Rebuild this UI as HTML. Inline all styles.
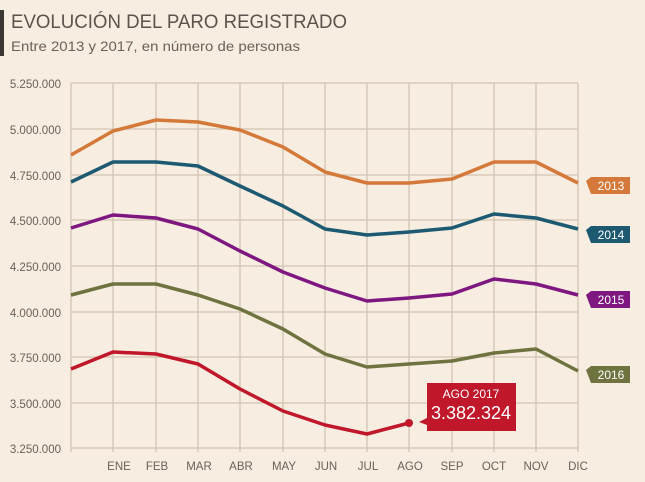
<!DOCTYPE html>
<html><head><meta charset="utf-8"><style>
body{margin:0;background:#f7ede1;}
svg{display:block;font-family:"Liberation Sans",sans-serif;}
</style></head><body>
<svg width="645" height="482" viewBox="0 0 645 482">
<rect width="645" height="482" fill="#f7ede1"/>
<rect x="0" y="10" width="4" height="46" fill="#3a3632"/>
<text x="11" y="28" font-size="19" fill="#5a544c" textLength="336" lengthAdjust="spacingAndGlyphs">EVOLUCIÓN DEL PARO REGISTRADO</text>
<text x="11" y="51" font-size="14" fill="#6a6258" textLength="289" lengthAdjust="spacingAndGlyphs">Entre 2013 y 2017, en número de personas</text>
<g stroke="#d2c4b3" stroke-width="1.3">
<line x1="71" y1="83" x2="578" y2="83"/><line x1="71" y1="129" x2="578" y2="129"/><line x1="71" y1="175" x2="578" y2="175"/><line x1="71" y1="220" x2="578" y2="220"/><line x1="71" y1="266" x2="578" y2="266"/><line x1="71" y1="312" x2="578" y2="312"/><line x1="71" y1="357" x2="578" y2="357"/><line x1="71" y1="403" x2="578" y2="403"/><line x1="71" y1="448" x2="578" y2="448"/>
<line x1="71" y1="83" x2="71" y2="452"/><line x1="113" y1="83" x2="113" y2="452"/><line x1="156" y1="83" x2="156" y2="452"/><line x1="198" y1="83" x2="198" y2="452"/><line x1="240" y1="83" x2="240" y2="452"/><line x1="283" y1="83" x2="283" y2="452"/><line x1="325" y1="83" x2="325" y2="452"/><line x1="367" y1="83" x2="367" y2="452"/><line x1="409" y1="83" x2="409" y2="452"/><line x1="452" y1="83" x2="452" y2="452"/><line x1="494" y1="83" x2="494" y2="452"/><line x1="536" y1="83" x2="536" y2="452"/><line x1="578" y1="83" x2="578" y2="452"/>
</g>
<g font-size="11.5" fill="#6a6258" text-anchor="end">
<text x="61" y="88">5.250.000</text><text x="61" y="134">5.000.000</text><text x="61" y="180">4.750.000</text><text x="61" y="225">4.500.000</text><text x="61" y="271">4.250.000</text><text x="61" y="317">4.000.000</text><text x="61" y="362">3.750.000</text><text x="61" y="408">3.500.000</text><text x="61" y="453">3.250.000</text>
</g>
<g font-size="11.5" fill="#6a6258" text-anchor="middle">
<text x="119" y="470">ENE</text><text x="157" y="470">FEB</text><text x="199" y="470">MAR</text><text x="241" y="470">ABR</text><text x="284" y="470">MAY</text><text x="326" y="470">JUN</text><text x="368" y="470">JUL</text><text x="410" y="470">AGO</text><text x="452" y="470">SEP</text><text x="494" y="470">OCT</text><text x="536" y="470">NOV</text><text x="578" y="470">DIC</text>
</g>
<g fill="none" stroke-width="3.5" stroke-linejoin="round">
<polyline stroke="#d5793a" points="71,155 113,131 156,120 198,122 240,130 283,147 325,172 367,183 409,183 452,179 494,162 536,162 578,183"/>
<polyline stroke="#1d5a72" points="71,182 113,162 156,162 198,166 240,186 283,206 325,229 367,235 409,232 452,228 494,214 536,218 578,229"/>
<polyline stroke="#7f1780" points="71,228 113,215 156,218 198,229 240,251 283,272 325,288 367,301 409,298 452,294 494,279 536,284 578,295"/>
<polyline stroke="#6f7340" points="71,295 113,284 156,284 198,295 240,309 283,329 325,354 367,367 409,364 452,361 494,353 536,349 578,371"/>
<polyline stroke="#c0172a" points="71,369 113,352 156,354 198,364 240,389 283,411 325,425 367,434 409,423"/>
</g>
<circle cx="409" cy="423" r="4" fill="#c0172a"/>
<g font-size="12" fill="#fff" text-anchor="middle">
<path d="M586,181 l5,-4 h39 v17 h-39 z" fill="#d5793a"/><text x="611" y="190">2013</text>
<path d="M586,230 l5,-4 h39 v17 h-39 z" fill="#1d5a72"/><text x="611" y="239">2014</text>
<path d="M586,295 l5,-4 h39 v17 h-39 z" fill="#7f1780"/><text x="611" y="304">2015</text>
<path d="M586,370 l5,-4 h39 v17 h-39 z" fill="#6f7340"/><text x="611" y="379">2016</text>
<path d="M419,422 l8,-4 v-35 h89 v48 h-89 v-6 z" fill="#c0172a"/>
<text x="471" y="398" font-size="12">AGO 2017</text>
<text x="471" y="419" font-size="18">3.382.324</text>
</g>
</svg>
</body></html>
